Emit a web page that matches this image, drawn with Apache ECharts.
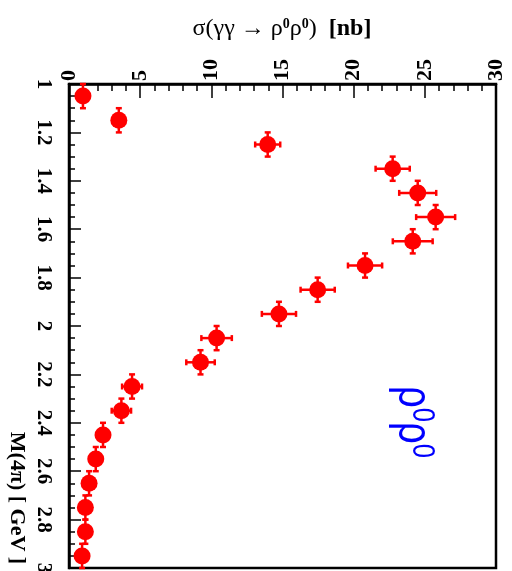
<!DOCTYPE html>
<html>
<head>
<meta charset="utf-8">
<script src="https://cdn.jsdelivr.net/npm/echarts@6/dist/echarts.min.js"></script>
<style>
html,body{margin:0;padding:0;background:#fff;}
#chart{width:512px;height:571px;}
</style>
</head>
<body>
<div id="chart"></div>
<script>
// M(4pi) bin centres [GeV]
const massCenters = [1.05,1.15,1.25,1.35,1.45,1.55,1.65,1.75,1.85,1.95,2.05,2.15,2.25,2.35,2.45,2.55,2.65,2.75,2.85,2.95];
// bin half widths [GeV]
const massHalfWidths = [0.05,0.05,0.05,0.05,0.05,0.05,0.05,0.05,0.05,0.05,0.05,0.05,0.05,0.05,0.05,0.05,0.05,0.05,0.05,0.05];
// cross section [nb]
const sigmaValues = [0.98,3.5,13.96,22.74,24.5,25.76,24.15,20.8,17.47,14.75,10.37,9.24,4.43,3.68,2.39,1.88,1.41,1.15,1.15,0.92];
// cross section errors [nb]
const sigmaErrors = [0.3,0.3,0.88,1.2,1.3,1.37,1.4,1.2,1.2,1.2,1.07,1.0,0.7,0.68,0.4,0.35,0.3,0.3,0.3,0.3];

const massTitle = 'M(4π) [ GeV ]';

const pts = massCenters.map((m,i)=>[sigmaValues[i], m, sigmaErrors[i], massHalfWidths[i]]);

const chart = echarts.init(document.getElementById('chart'));
const serif = 'Liberation Serif';
const red = '#ff0000';

function renderErr(params, api){
  const s = api.value(0), m = api.value(1), es = api.value(2), em = api.value(3);
  const l = api.coord([s-es,m]), r = api.coord([s+es,m]);
  const t = api.coord([s,m-em]), b = api.coord([s,m+em]);
  const st = {stroke: red, lineWidth: 2.5};
  const cap = 3;
  const children = [
    {type:'line', shape:{x1:l[0],y1:l[1],x2:r[0],y2:r[1]}, style:st},
    {type:'line', shape:{x1:l[0],y1:l[1]-cap,x2:l[0],y2:l[1]+cap}, style:st},
    {type:'line', shape:{x1:r[0],y1:r[1]-cap,x2:r[0],y2:r[1]+cap}, style:st},
    {type:'line', shape:{x1:t[0],y1:t[1],x2:b[0],y2:b[1]}, style:st},
    {type:'line', shape:{x1:t[0]-cap,y1:t[1],x2:t[0]+cap,y2:t[1]}, style:st},
    {type:'line', shape:{x1:b[0]-cap,y1:b[1],x2:b[0]+cap,y2:b[1]}, style:st}
  ];
  return {type:'group', children};
}

chart.setOption({
  animation:false,
  backgroundColor:'#fff',
  grid:{left:69, right:16, top:84, bottom:3, containLabel:false, outerBoundsMode:'none',
        show:true, borderColor:'#000', borderWidth:2.5, backgroundColor:'transparent'},
  xAxis:{
    type:'value', position:'top', min:0, max:30, interval:5,
    axisLine:{show:true, lineStyle:{color:'#000', width:2.5}},
    axisTick:{show:true, inside:true, length:14, lineStyle:{color:'#000', width:1.5}},
    minorTick:{show:true, splitNumber:5, length:7, lineStyle:{color:'#000', width:1.5}},
    splitLine:{show:false},
    axisLabel:{rotate:-90, margin:3, color:'#000', fontFamily:serif, fontWeight:'bold', fontSize:22}
  },
  yAxis:{
    type:'value', inverse:true, min:1, max:3, interval:0.2,
    axisLine:{show:true, lineStyle:{color:'#000', width:2.5}},
    axisTick:{show:true, inside:true, length:12, lineStyle:{color:'#000', width:1.5}},
    minorTick:{show:true, splitNumber:4, length:6, lineStyle:{color:'#000', width:1.5}},
    splitLine:{show:false},
    axisLabel:{rotate:-90, margin:15, color:'#000', fontFamily:serif, fontWeight:'bold', fontSize:21, showMaxLabel:true, showMinLabel:true}
  },
  graphic:[
    {type:'text', x:282, y:29,
     style:{align:'center', verticalAlign:'middle',
       text:'{n|σ(γγ → ρ}{s|0}{n|ρ}{s|0}{n|)  }{b|[nb]}',
       rich:{
         n:{fontFamily:serif, fontSize:24, fill:'#000'},
         s:{fontFamily:serif, fontSize:14, fontWeight:'bold', fill:'#000', verticalAlign:'top', padding:[0,0,10,0]},
         b:{fontFamily:serif, fontSize:24, fontWeight:'bold', fill:'#000'}
       }}},
    {type:'text', x:17, y:498, rotation:-Math.PI/2,
     style:{align:'center', verticalAlign:'middle', text:massTitle,
       font:'bold 22px "Liberation Serif"', fill:'#000'}},
    {type:'text', x:412, y:422, rotation:-Math.PI/2, scaleX:0.8,
     style:{align:'center', verticalAlign:'middle',
       text:'{r|ρ}{z|0}{r|ρ}{z|0}',
       rich:{
         r:{fontFamily:'Liberation Sans', fontSize:48, fill:'#0000ff'},
         z:{fontFamily:'Liberation Sans', fontSize:32, fill:'#0000ff', verticalAlign:'top', padding:[0,0,20,0]}
       }}}
  ],
  series:[
    {type:'custom', renderItem:renderErr, data:pts, encode:{x:0,y:1}, z:2, silent:true},
    {type:'scatter', data:pts.map(p=>[p[0],p[1]]), symbol:'circle', symbolSize:17,
     itemStyle:{color:red, opacity:1}, z:3, silent:true}
  ]
});
</script>
</body>
</html>
